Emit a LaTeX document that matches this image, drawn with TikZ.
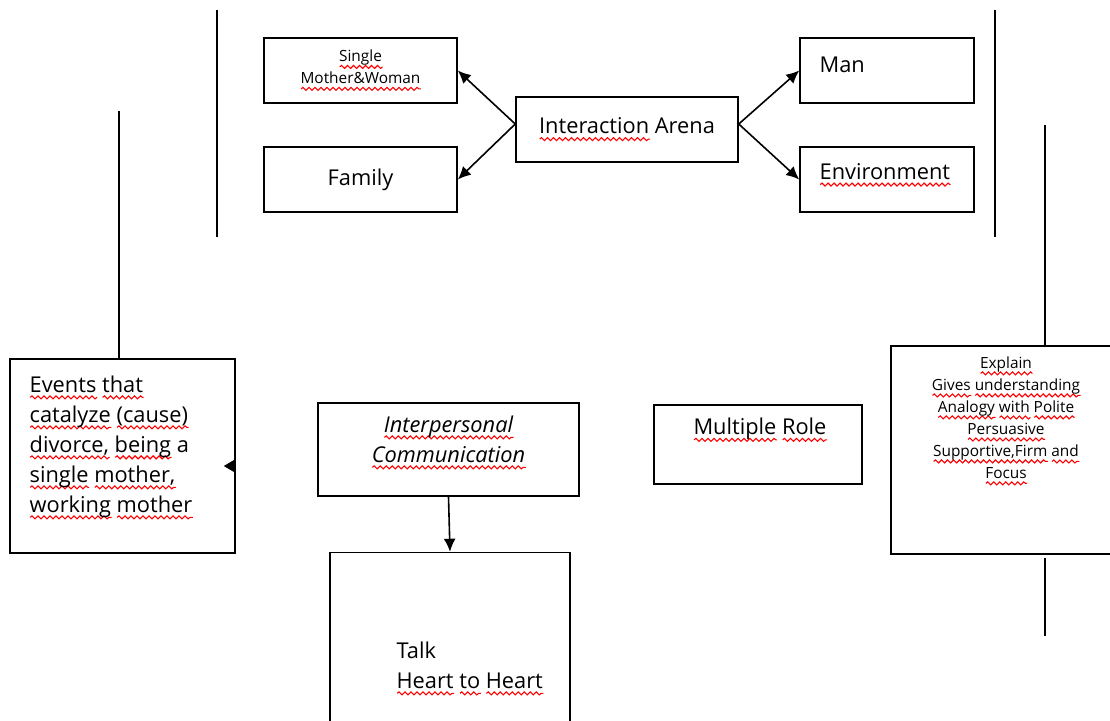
\documentclass[tikz,border=0pt]{standalone}
\usepackage{fontspec}
\setmainfont{Open Sans}
\usetikzlibrary{positioning, calc, arrows.meta, decorations.pathmorphing}

% red spell-check wave under a word
\newlength{\wvlen}
\newcommand{\wv}[1]{\settowidth{\wvlen}{#1}\rlap{\tikz[baseline=0pt]\draw[red, line width=0.55pt, decorate, decoration={snake, amplitude=0.75pt, segment length=3pt}] (0pt,-2.6pt) -- (\wvlen,-2.6pt);}#1}

\tikzset{
    box/.style 2 args={draw, line width=0.75pt, inner sep=0pt, align=center, minimum width=#1*0.5pt, minimum height=#2*0.5pt},
    bigtxt/.style={font=\fontsize{10.9}{15}\selectfont, inner sep=0pt},
    smalltxt/.style={font=\fontsize{7.7}{11}\selectfont, inner sep=0pt},
    rule/.style={line width=1pt},
    link/.style={line width=0.8pt, -{Latex[length=6.5pt, width=6pt]}}
}

\begin{document}
\begin{tikzpicture}[x=0.5pt, y=-0.5pt]
    \useasboundingbox (0,0) rectangle (1110,720);
    \clip (0,0) rectangle (1110,720);

    % Top row - interaction arena and its four parts
    \node[box={193}{65}, smalltxt] (smw) at (360.5,70.5) {\wv{Single}\\\wv{Mother\&Woman}};
    \node[box={193}{65}, bigtxt] (fam) at (360.5,179.5) {Family};
    \node[box={222}{65}, bigtxt] (ia) at (627,129.5) {\wv{Interaction} Arena};
    \node[box={174}{65}] (man) at (887,70.5) {};
    \node[bigtxt, anchor=west] (mantxt) at ([xshift=10pt, yshift=2.75pt]man.west) {Man};
    \node[box={174}{65}] (env) at (887,179.5) {};
    \node[bigtxt, anchor=west] (envtxt) at ([xshift=10pt, yshift=2.25pt]env.west) {\wv{Environment}};

    \draw[link] ([yshift=2.75pt]ia.west) -- (smw.east);
    \draw[link] ([yshift=2.75pt]ia.west) -- (fam.east);
    \draw[link] ([yshift=2.75pt]ia.east) -- (man.west);
    \draw[link] ([yshift=2.75pt]ia.east) -- (env.west);

    % Side rules
    \draw[rule] (217,10) -- (217,237);
    \draw[rule] (995,10) -- (995,237);

    % Left box - events
    \node[box={225}{194}] (ev) at (122.5,456) {};
    \node[bigtxt, anchor=west, align=left] (evtxt) at ([xshift=10pt, yshift=4.25pt]ev.west)
        {\wv{Events} \wv{that}\\\wv{catalyze} \wv{(cause)}\\\wv{divorce,} \wv{being} a\\\wv{single} \wv{mother,}\\\wv{working} \wv{mother}};
    \coordinate (evtop) at (119,111);
    \draw[rule] (evtop) -- (evtop |- ev.north);
    \fill ($(ev.east)+(0,10)$) ++(0,-7) -- ++(-12,7) -- ++(12,7) -- cycle;

    % Middle - communication
    \node[box={261}{93}] (ic) at (448.5,449.5) {};
    \node[bigtxt, align=center, font=\fontsize{10.9}{15}\selectfont\itshape] (ictxt) at ([yshift=3.5pt]ic.center)
        {\wv{Interpersonal}\\\wv{Communication}};
    \node[box={240}{207}] (talk) at (450,656) {};
    \node[bigtxt, anchor=west, align=left] (talktxt) at ([xshift=33.5pt, yshift=-6.25pt]talk.west)
        {Talk\\\wv{Heart} \wv{to} \wv{Heart}};
    \draw[link] (ic.south) -- (talk.north);

    \node[box={208}{79}] (mr) at (758,444.5) {};
    \node[bigtxt] (mrtxt) at ([xshift=1pt, yshift=7.25pt]mr.center) {\wv{Multiple} \wv{Role}};

    % Right box - explain
    \node[box={239}{208}] (rb) at (1010.5,450) {};
    \node[smalltxt, align=center] (rbtxt) at ([xshift=-2.25pt, yshift=14.5pt]rb.center)
        {\wv{Explain}\\\wv{Gives} \wv{understanding}\\\wv{Analogy} \wv{with} \wv{Polite}\\\wv{Persuasive}\\\wv{Supportive,Firm} \wv{and}\\\wv{Focus}};
    \coordinate (rbtop) at (1045,125);
    \draw[rule] (rbtop) -- (rbtop |- rb.north);
    \draw[rule] (1045,558) coordinate (rbbot) -- ++(0,78);
\end{tikzpicture}
\end{document}
